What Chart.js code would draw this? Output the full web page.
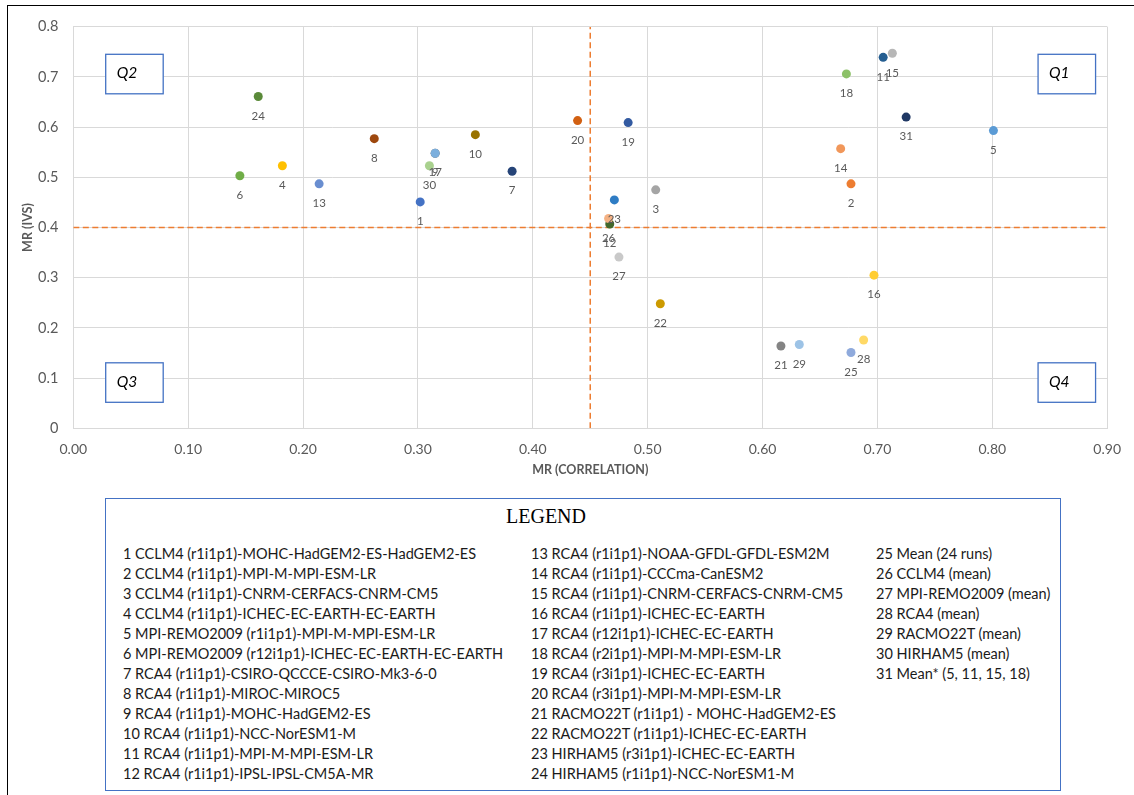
<!DOCTYPE html>
<html>
<head>
<meta charset="utf-8">
<title>MR (IVS) vs MR (CORRELATION)</title>
<script src="https://cdn.jsdelivr.net/npm/chart.js@4.4.1/dist/chart.umd.min.js"></script>
<style>
  html, body { margin: 0; padding: 0; background: #fff; }
  body { width: 1134px; height: 795px; position: relative; overflow: hidden; font-family: Lato, 'Open Sans', sans-serif; }
  #frame { position: absolute; left: 7px; top: 5px; width: 1200px; height: 900px; border-left: 1.5px solid #000; border-top: 1.5px solid #000; }
  #mr-canvas { position: absolute; left: 0; top: 0; }
  #legend { position: absolute; left: 105px; top: 498px; width: 956px; height: 293px; box-sizing: border-box; border: 1.3px solid #4472C4; background: #fff; color: #1a1a1a; }
  #legend .title { position: absolute; left: 0; width: 880px; top: 6px; text-align: center; font: 20px 'Liberation Serif', 'DejaVu Serif', serif; color: #000; }
  #legend .col { position: absolute; top: 45px; font-size: 14.5px; line-height: 20px; white-space: nowrap; }
</style>
</head>
<body>
<div id="frame"></div>
<canvas id="mr-canvas" width="1134" height="480"></canvas>
<div id="legend">
  <div class="title">LEGEND</div>
</div>

<script>
/* ================================================
   DATA
================================================ */

const runIds = [
  '1', '2', '3', '4', '5', '6', '7', '8', '9', '10', '11', '12', '13', '14', '15', '16',
  '17', '18', '19', '20', '21', '22', '23', '24', '25', '26', '27', '28', '29', '30', '31',
];

const runNames = [
  'CCLM4 (r1i1p1)-MOHC-HadGEM2-ES-HadGEM2-ES',
  'CCLM4 (r1i1p1)-MPI-M-MPI-ESM-LR',
  'CCLM4 (r1i1p1)-CNRM-CERFACS-CNRM-CM5',
  'CCLM4 (r1i1p1)-ICHEC-EC-EARTH-EC-EARTH',
  'MPI-REMO2009 (r1i1p1)-MPI-M-MPI-ESM-LR',
  'MPI-REMO2009 (r12i1p1)-ICHEC-EC-EARTH-EC-EARTH',
  'RCA4 (r1i1p1)-CSIRO-QCCCE-CSIRO-Mk3-6-0',
  'RCA4 (r1i1p1)-MIROC-MIROC5',
  'RCA4 (r1i1p1)-MOHC-HadGEM2-ES',
  'RCA4 (r1i1p1)-NCC-NorESM1-M',
  'RCA4 (r1i1p1)-MPI-M-MPI-ESM-LR',
  'RCA4 (r1i1p1)-IPSL-IPSL-CM5A-MR',
  'RCA4 (r1i1p1)-NOAA-GFDL-GFDL-ESM2M',
  'RCA4 (r1i1p1)-CCCma-CanESM2',
  'RCA4 (r1i1p1)-CNRM-CERFACS-CNRM-CM5',
  'RCA4 (r1i1p1)-ICHEC-EC-EARTH',
  'RCA4 (r12i1p1)-ICHEC-EC-EARTH',
  'RCA4 (r2i1p1)-MPI-M-MPI-ESM-LR',
  'RCA4 (r3i1p1)-ICHEC-EC-EARTH',
  'RCA4 (r3i1p1)-MPI-M-MPI-ESM-LR',
  'RACMO22T (r1i1p1) - MOHC-HadGEM2-ES',
  'RACMO22T (r1i1p1)-ICHEC-EC-EARTH',
  'HIRHAM5 (r3i1p1)-ICHEC-EC-EARTH',
  'HIRHAM5 (r1i1p1)-NCC-NorESM1-M',
  'Mean (24 runs)',
  'CCLM4 (mean)',
  'MPI-REMO2009 (mean)',
  'RCA4 (mean)',
  'RACMO22T (mean)',
  'HIRHAM5 (mean)',
  'Mean* (5, 11, 15, 18)',
];

const mrCorrelation = [
  0.302, 0.677, 0.507, 0.182, 0.801, 0.145, 0.382, 0.262, 0.315, 0.350,
  0.705, 0.467, 0.214, 0.668, 0.713, 0.697, 0.315, 0.673, 0.483, 0.439,
  0.616, 0.511, 0.471, 0.161, 0.677, 0.466, 0.475, 0.688, 0.632, 0.310,
  0.725,
];

const mrIvs = [
  0.451, 0.487, 0.475, 0.523, 0.593, 0.503, 0.512, 0.577, 0.548, 0.585,
  0.739, 0.407, 0.487, 0.557, 0.747, 0.305, 0.548, 0.706, 0.609, 0.613,
  0.164, 0.248, 0.455, 0.661, 0.151, 0.418, 0.341, 0.176, 0.167, 0.523,
  0.620,
];

const xTickLabels = ['0.00', '0.10', '0.20', '0.30', '0.40', '0.50', '0.60', '0.70', '0.80', '0.90'];
const yTickLabels = ['0', '0.1', '0.2', '0.3', '0.4', '0.5', '0.6', '0.7', '0.8'];

const quadrantNames = ['Q1', 'Q2', 'Q3', 'Q4'];

/* quadrant split */
const corrThreshold = 0.45;
const ivsThreshold  = 0.4;

/* ================================================
   MARKER COLORS  (office series palette)
================================================ */

const runColors = [
  '#4472C4', '#ED7D31', '#A5A5A5', '#FFC000', '#5B9BD5', '#70AD47',
  '#264478', '#9E480E', '#636363', '#997300', '#255E91', '#43682B',
  '#698ED0', '#F1975A', '#B7B7B7', '#FFCD33', '#7CAFDD', '#8CC168',
  '#335AA1', '#D26012', '#848484', '#CC9A00', '#2E7CC4', '#5A8A39',
  '#8FAADC', '#F4B183', '#C9C9C9', '#FFD966', '#9DC3E6', '#A9D18E',
  '#203864',
];

/* ================================================
   LEGEND  (three columns: 1-12, 13-24, 25-31)
================================================ */

function buildLegend() {
  const box  = document.getElementById('legend');
  const cols = [[0, 12, 17], [12, 24, 425], [24, 31, 770]];
  cols.forEach(([from, to, left]) => {
    const col = document.createElement('div');
    col.className = 'col';
    col.style.left = left + 'px';
    col.innerHTML = runNames.slice(from, to)
      .map((name, i) => runIds[from + i] + ' ' + name)
      .join('<br>');
    box.appendChild(col);
  });
}

/* ================================================
   PLUGINS
================================================ */

/* number under each marker */
const runLabels = {
  id: 'runLabels',
  afterDatasetsDraw(chart) {
    const meta = chart.getDatasetMeta(0);
    const ctx  = chart.ctx;
    ctx.save();
    ctx.font         = '11.5px Lato';
    ctx.fillStyle    = '#595959';
    ctx.textAlign    = 'center';
    ctx.textBaseline = 'middle';
    meta.data.forEach((pt, i) => {
      ctx.fillText(runIds[i], pt.x, pt.y + 19.5);
    });
    ctx.restore();
  },
};

/* Q1..Q4 boxes in the plot corners */
const quadrantBoxes = {
  id: 'quadrantBoxes',
  beforeDatasetsDraw(chart) {
    const { left, right, top, bottom } = chart.chartArea;
    const ctx = chart.ctx;
    const w = 57.5, h = 39.5;
    const spots = [
      [right - 11.6 - w, top + 27.6],
      [left + 32.4,      top + 27.6],
      [left + 32.4,      bottom - 26 - h],
      [right - 11.6 - w, bottom - 26 - h],
    ];
    ctx.save();
    quadrantNames.forEach((name, i) => {
      const [x, y] = spots[i];
      ctx.fillStyle = '#fff';
      ctx.fillRect(x, y, w, h);
      ctx.strokeStyle = '#4472C4';
      ctx.lineWidth   = 1.3;
      ctx.strokeRect(x, y, w, h);
      ctx.font         = 'italic 15.5px Lato';
      ctx.fillStyle    = '#000';
      ctx.textAlign    = 'left';
      ctx.textBaseline = 'middle';
      ctx.fillText(name, x + 11, y + h / 2 - 1);
    });
    ctx.restore();
  },
};

/* ================================================
   CHART
================================================ */

function buildMrChart() {
  const canvas = document.getElementById('mr-canvas');

  const points = mrCorrelation.map((x, i) => ({ x, y: mrIvs[i] }));

  const dash = {
    type:        'line',
    borderColor: '#ED7D31',
    borderWidth: 1.5,
    borderDash:  [6, 3.5],
    pointRadius: 0,
    fill:        false,
  };

  new Chart(canvas.getContext('2d'), {
    type: 'scatter',
    data: {
      datasets: [
        {
          label:                'Runs',
          data:                 points,
          pointRadius:          4.5,
          pointHoverRadius:     4.5,
          pointBackgroundColor: runColors,
          pointBorderWidth:     0,
          order:                0,
        },
        { ...dash, data: [{ x: 0, y: ivsThreshold }, { x: 0.9, y: ivsThreshold }], order: 1 },
        { ...dash, data: [{ x: corrThreshold, y: 0 }, { x: corrThreshold, y: 0.8 }], order: 2 },
      ],
    },
    options: {
      responsive: false,
      animation:  false,
      layout: { padding: { left: 0, top: 26.7, right: 24.7, bottom: 0 } },
      plugins: {
        legend:  { display: false },
        tooltip: { enabled: false },
      },
      scales: {
        x: {
          type: 'linear',
          min:  0,
          max:  0.9,
          afterFit: scale => { scale.height = 51.7; },
          ticks: {
            stepSize: 0.1,
            color:    '#595959',
            font:     { family: 'Lato', size: 14 },
            padding:  13,
            maxRotation: 0,
            callback: (v, i) => xTickLabels[i],
          },
          grid:   { color: '#d9d9d9', drawTicks: false },
          border: { color: '#d9d9d9' },
          title: {
            display: true,
            text:    'MR (CORRELATION)',
            color:   '#595959',
            font:    { family: 'Lato', size: 12.5, weight: 'bold' },
            padding: { top: 0, bottom: 2.8 },
          },
        },
        y: {
          type: 'linear',
          min:  0,
          max:  0.8,
          afterFit: scale => { scale.width = 73.3; },
          ticks: {
            stepSize: 0.1,
            color:    '#595959',
            font:     { family: 'Lato', size: 14.5 },
            padding:  15,
            callback: (v, i) => yTickLabels[i],
          },
          grid:   { color: '#d9d9d9', drawTicks: false },
          border: { color: '#d9d9d9' },
          title: {
            display: true,
            text:    'MR (IVS)',
            color:   '#595959',
            font:    { family: 'Lato', size: 12.5, weight: 'bold' },
            padding: { top: 20, bottom: 0 },
          },
        },
      },
    },
    plugins: [quadrantBoxes, runLabels],
  });
}

buildLegend();
buildMrChart();
</script>
</body>
</html>
